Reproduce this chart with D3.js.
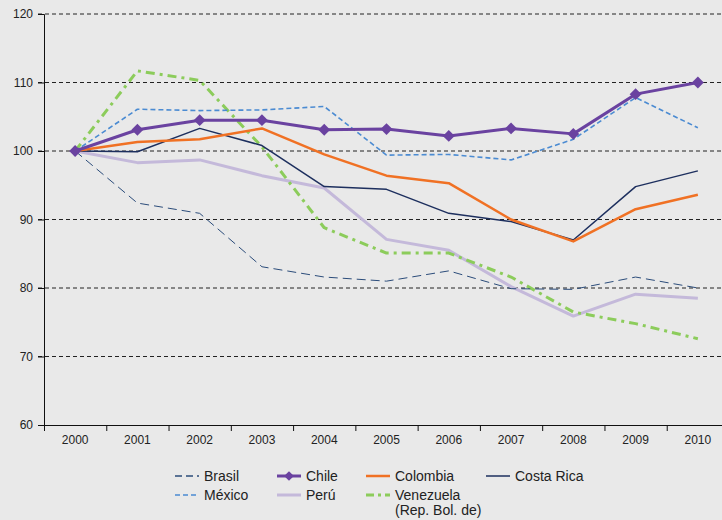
<!DOCTYPE html>
<html lang="es">
<head>
  <meta charset="UTF-8">
  <title>Índices 2000-2010</title>
  <script src="https://d3js.org/d3.v7.min.js"></script>
  <style>
    body { margin: 0; background: #e9e9e9; }
    svg { display: block; font-family: "Liberation Sans", Arial, sans-serif; }
  </style>
</head>
<body>
  <svg id="chart" width="722" height="520"></svg>
  <script>
    // data (index 2000 = 100)
    const years = ["2000","2001","2002","2003","2004","2005","2006","2007","2008","2009","2010"];
    const brasil    = [100, 92.4, 90.9, 83.1, 81.6, 81.0, 82.5, 79.9, 79.8, 81.6, 80.0];
    const chile     = [100, 103.1, 104.5, 104.5, 103.1, 103.2, 102.2, 103.3, 102.5, 108.3, 110.0];
    const colombia  = [100, 101.3, 101.7, 103.3, 99.5, 96.4, 95.3, 90.0, 86.8, 91.5, 93.6];
    const costaRica = [100, 99.9, 103.3, 100.8, 94.8, 94.4, 90.9, 89.7, 87.0, 94.8, 97.1];
    const mexico    = [100, 106.1, 105.9, 106.0, 106.5, 99.4, 99.5, 98.7, 101.7, 107.8, 103.4];
    const peru      = [100, 98.3, 98.7, 96.4, 94.6, 87.1, 85.5, 80.2, 75.9, 79.1, 78.5];
    const venezuela = [100, 111.7, 110.3, 100.6, 88.8, 85.1, 85.1, 81.6, 76.5, 74.8, 72.6];
    const yTicks = [60, 70, 80, 90, 100, 110, 120];

    const series = [
      { name: "Brasil", values: brasil, color: "#2b4c7a", width: 1, dash: "9,5" },
      { name: "Chile", values: chile, color: "#6a42a0", width: 3, dash: null, marker: true },
      { name: "Colombia", values: colombia, color: "#f07124", width: 2.5, dash: null },
      { name: "Costa Rica", values: costaRica, color: "#1d2f5e", width: 1.5, dash: null },
      { name: "México", values: mexico, color: "#4b8bd2", width: 1.6, dash: "5,3" },
      { name: "Perú", values: peru, color: "#c4b9da", width: 3, dash: null },
      { name: "Venezuela", name2: "(Rep. Bol. de)", values: venezuela, color: "#8ccc5b", width: 3, dash: "9,5,3,5" }
    ];
    // draw order: light lines underneath
    const drawOrder = ["Perú", "Venezuela", "Brasil", "Costa Rica", "México", "Colombia", "Chile"];

    const svg = d3.select("#chart");
    const x = d3.scaleBand().domain(years).range([44, 729]);
    const y = d3.scaleLinear().domain([60, 120]).range([425, 14]);
    const cx = d => x(d) + x.bandwidth() / 2;

    // gridlines
    svg.append("g")
      .selectAll("line")
      .data(yTicks.filter(t => t > 60))
      .join("line")
      .attr("x1", 38).attr("x2", 722)
      .attr("y1", d => y(d)).attr("y2", d => y(d))
      .attr("stroke", "#222")
      .attr("stroke-width", 1)
      .attr("stroke-dasharray", "4,3");

    // y axis
    const yAxis = svg.append("g")
      .attr("transform", "translate(44,0)")
      .call(d3.axisLeft(y).tickValues(yTicks).tickSize(6).tickPadding(5));
    yAxis.select(".domain").attr("stroke", "#111");
    yAxis.selectAll(".tick line").attr("stroke", "#111");
    yAxis.selectAll("text").attr("font-size", 12).attr("fill", "#222");

    // x axis
    const xAxis = svg.append("g")
      .attr("transform", "translate(0,425)")
      .call(d3.axisBottom(x).tickSize(0).tickPadding(10));
    xAxis.select(".domain").attr("stroke", "#111").attr("d", "M38,0.5H722");
    xAxis.selectAll("text").attr("font-size", 12).attr("fill", "#222");
    xAxis.append("g")
      .selectAll("line")
      .data(years)
      .join("line")
      .attr("x1", d => x(d) + 0.5).attr("x2", d => x(d) + 0.5)
      .attr("y1", 0).attr("y2", 6)
      .attr("stroke", "#111");

    const line = d3.line()
      .x((d, i) => cx(years[i]))
      .y(d => y(d));

    const plot = svg.append("g");
    drawOrder.forEach(n => {
      const s = series.find(s => s.name === n);
      plot.append("path")
        .datum(s.values)
        .attr("d", line)
        .attr("fill", "none")
        .attr("stroke", s.color)
        .attr("stroke-width", s.width)
        .attr("stroke-linejoin", "round")
        .attr("stroke-dasharray", s.dash);
      if (s.marker) {
        plot.selectAll(".mk")
          .data(s.values)
          .join("path")
          .attr("class", "mk")
          .attr("d", d3.symbol(d3.symbolDiamond2, 90))
          .attr("transform", (d, i) => `translate(${cx(years[i])},${y(d)})`)
          .attr("fill", s.color);
      }
    });

    // legend
    const legendPos = [
      [175, 476], [277, 476], [366, 476], [486, 476],
      [175, 495], [277, 495], [366, 495]
    ];
    const legend = svg.append("g");
    series.forEach((s, i) => {
      const [lx, ly] = legendPos[i];
      const g = legend.append("g").attr("transform", `translate(${lx},${ly})`);
      g.append("line")
        .attr("x1", 0).attr("x2", 24)
        .attr("y1", 0).attr("y2", 0)
        .attr("stroke", s.color)
        .attr("stroke-width", Math.max(s.width, 1.3))
        .attr("stroke-dasharray", s.name === "Brasil" ? "7,4" : s.name === "México" ? "5,3" : s.name === "Venezuela" ? "8,4,3,4" : null);
      if (s.marker) {
        g.append("path")
          .attr("d", d3.symbol(d3.symbolDiamond2, 60))
          .attr("transform", "translate(12,0)")
          .attr("fill", s.color);
      }
      g.append("text")
        .attr("x", 29).attr("y", 5)
        .attr("font-size", 14)
        .attr("fill", "#222")
        .text(s.name);
      if (s.name2) {
        g.append("text")
          .attr("x", 29).attr("y", 20)
          .attr("font-size", 14)
          .attr("fill", "#222")
          .text(s.name2);
      }
    });
  </script>
</body>
</html>
